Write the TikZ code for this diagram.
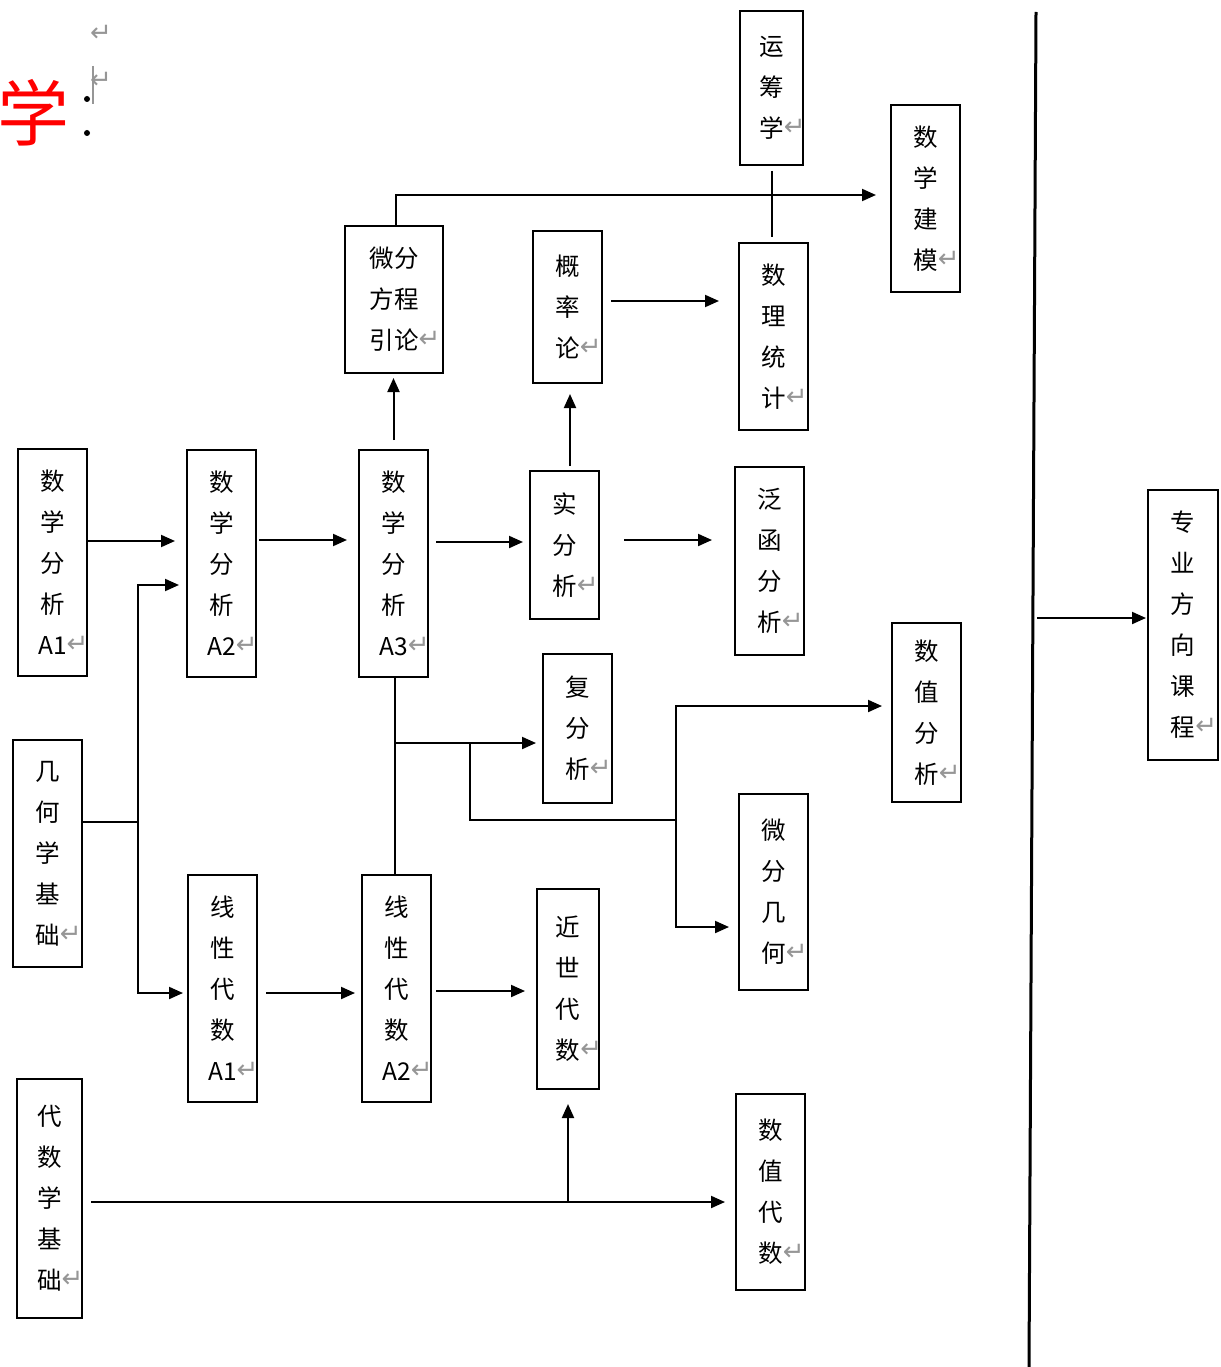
\documentclass[tikz,border=0pt]{standalone}
\usepackage{fontspec}
\setmainfont{Noto Sans CJK SC}
\newfontfamily\dv{DejaVu Sans}
\usetikzlibrary{arrows.meta}
\definecolor{retgray}{RGB}{150,150,150}
\newcommand\ret{\rlap{\raisebox{2pt}{\color{retgray}\dv\fontsize{26}{26}\selectfont ↵}}}
\begin{document}
\begin{tikzpicture}[x=1pt,y=-1pt,
  box/.style={draw, line width=2pt, align=center, inner sep=0pt, font=\fontsize{24.5}{41}\selectfont},
  arr/.style={line width=2pt, -{Triangle[length=14pt,width=12pt]}},
  ln/.style={line width=2pt}]
\useasboundingbox (0,0) rectangle (1220,1367);
% header
\node[text=red, font=\fontsize{72}{72}\selectfont, inner sep=0pt] (xue) at (34,113) {学};
\fill (87,99) circle (3);
\fill (87,133) circle (3);
\node[text=retgray, font=\dv\fontsize{26}{26}\selectfont, inner sep=0pt] (r1) at (101,33) {↵};
\node[text=retgray, font=\dv\fontsize{26}{26}\selectfont, inner sep=0pt] (r2) at (101,80) {↵};
\draw[retgray, line width=1.2pt] (93,66) -- (93,104);
% boxes
\node[box, minimum width=63pt, minimum height=154pt] (ycx) at (771.5,88) {运\\筹\\学\ret};
\node[box, minimum width=69pt, minimum height=187pt] (sxjm) at (925.5,198.5) {数\\学\\建\\模\ret};
\node[box, minimum width=98pt, minimum height=147pt] (wffc) at (394,299.5) {微分\\方程\\引论\ret};
\node[box, minimum width=69pt, minimum height=152pt] (glv) at (567.5,307) {概\\率\\论\ret};
\node[box, minimum width=69pt, minimum height=187pt] (sltj) at (773.5,336.5) {数\\理\\统\\计\ret};
\node[box, minimum width=69pt, minimum height=227pt] (a1) at (52.5,562.5) {数\\学\\分\\析\\A1\ret};
\node[box, minimum width=69pt, minimum height=227pt] (a2) at (221.5,563.5) {数\\学\\分\\析\\A2\ret};
\node[box, minimum width=69pt, minimum height=227pt] (a3) at (393.5,563.5) {数\\学\\分\\析\\A3\ret};
\node[box, minimum width=69pt, minimum height=148pt] (sfx) at (564.5,545) {实\\分\\析\ret};
\node[box, minimum width=69pt, minimum height=188pt] (fhfx) at (769.5,561) {泛\\函\\分\\析\ret};
\node[box, minimum width=70pt, minimum height=270pt] (zy) at (1183,625) {专\\业\\方\\向\\课\\程\ret};
\node[box, minimum width=69pt, minimum height=179pt] (szfx) at (926.5,712.5) {数\\值\\分\\析\ret};
\node[box, minimum width=69pt, minimum height=149pt] (ffx) at (577.5,728.5) {复\\分\\析\ret};
\node[box, minimum width=69pt, minimum height=227pt] (jh) at (47.5,853.5) {几\\何\\学\\基\\础\ret};
\node[box, minimum width=69pt, minimum height=196pt] (wfjh) at (773.5,892) {微\\分\\几\\何\ret};
\node[box, minimum width=69pt, minimum height=227pt] (xa1) at (222.5,988.5) {线\\性\\代\\数\\A1\ret};
\node[box, minimum width=69pt, minimum height=227pt] (xa2) at (396.5,988.5) {线\\性\\代\\数\\A2\ret};
\node[box, minimum width=62pt, minimum height=200pt] (jsds) at (568,989) {近\\世\\代\\数\ret};
\node[box, minimum width=65pt, minimum height=239pt] (dsjc) at (49.5,1198.5) {代\\数\\学\\基\\础\ret};
\node[box, minimum width=69pt, minimum height=196pt] (szds) at (770.5,1192) {数\\值\\代\\数\ret};
% connectors
\draw[arr, shorten >=11pt] ([yshift=21.5pt]a1.east) -- ([yshift=21.5pt]a1.east -| a2.west);
\draw[arr, shorten <=2pt, shorten >=11pt] ([yshift=23.5pt]a2.east) -- ([yshift=23.5pt]a2.east -| a3.west);
\draw[arr, shorten <=7pt, shorten >=6pt] ([yshift=21.5pt]a3.east) -- ([yshift=21.5pt]a3.east -| sfx.west);
\draw[arr, shorten <=24pt, shorten >=22pt] ([yshift=5pt]sfx.east) -- ([yshift=5pt]sfx.east -| fhfx.west);
\draw[arr, shorten <=9pt, shorten >=4pt] (a3.north) -- (a3.north |- wffc.south);
\draw[arr, shorten >=14pt] ([xshift=2pt]wffc.north) |- ([yshift=3.5pt]sxjm.west);
\draw[ln, shorten <=5pt, shorten >=5pt] (ycx.south) -- (ycx.south |- sltj.north);
\draw[arr, shorten <=4pt, shorten >=10pt] ([xshift=5.5pt]sfx.north) -- ([xshift=5.5pt]sfx.north |- glv.south);
\draw[arr, shorten <=8pt, shorten >=19pt] ([yshift=6pt]glv.east) -- ([yshift=6pt]glv.east -| sltj.west);
\draw[ln] ([xshift=1.5pt]a3.south) -- ([xshift=1.5pt]a3.south |- xa2.north);
\coordinate (j1) at (395,743);
\coordinate (j2) at (470,743);
\coordinate (j3) at (676,820);
\draw[arr, shorten >=6pt] (j1) -- (j1 -| ffx.west);
\draw[ln] (j2) |- (j3);
\draw[arr, shorten >=9pt] (j3) |- ([yshift=6.5pt]szfx.west);
\draw[arr, shorten >=9pt] (j3) |- ([yshift=-35pt]wfjh.west);
\coordinate (j4) at (138,822);
\draw[ln] ([yshift=31.5pt]jh.east) -- (j4);
\draw[arr, shorten >=7pt] (j4) |- ([yshift=-21.5pt]a2.west);
\draw[arr, shorten >=4pt] (j4) |- ([yshift=-4.5pt]xa1.west);
\draw[arr, shorten <=8pt, shorten >=6pt] ([yshift=-4.5pt]xa1.east) -- ([yshift=-4.5pt]xa1.east -| xa2.west);
\draw[arr, shorten <=4pt, shorten >=11pt] ([yshift=-2.5pt]xa2.east) -- ([yshift=-2.5pt]xa2.east -| jsds.west);
\draw[arr, shorten <=8pt, shorten >=10pt] ([yshift=-3.5pt]dsjc.east) -- ([yshift=-3.5pt]dsjc.east -| szds.west);
\coordinate (j5) at (568,1202);
\draw[arr, shorten >=14pt] (j5) -- (j5 |- jsds.south);
\coordinate (vt) at (1036,12);
\coordinate (vb) at (1029,1367);
\draw[line width=3pt] (vt) -- (vb);
\coordinate (vm) at (1037,618);
\draw[arr, shorten >=1pt] (vm) -- (vm -| zy.west);
\end{tikzpicture}
\end{document}
